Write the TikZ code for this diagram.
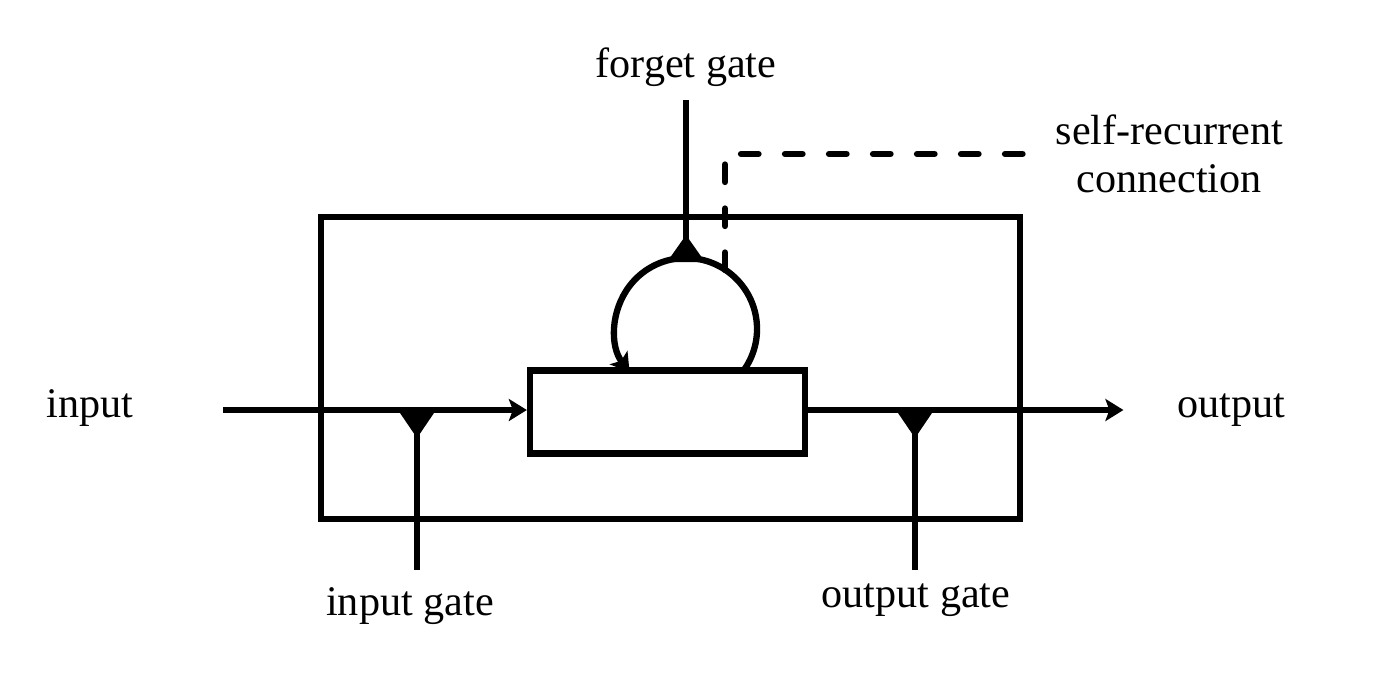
\documentclass[tikz,border=0pt]{standalone}
\usepackage{fontspec}
\setmainfont{Liberation Serif}
\usetikzlibrary{arrows.meta,positioning}
\tikzset{
  wire/.style={line width=1.8pt},
  flow/.style={wire,-{Stealth[length=1.8mm,width=2.2mm,inset=0.4mm]}},
  box/.style={draw,line width=1.8pt,inner sep=0pt},
  lbl/.style={inner sep=0pt,font=\fontsize{12}{13.6}\selectfont},
}
\begin{document}
\begin{tikzpicture}
	\useasboundingbox (0,0) rectangle (13.81,-6.81);
	% block and cell
	\node[box,minimum width=6.99cm,minimum height=3.02cm] (block) at (6.705,-3.68) {};
	\node[box,minimum width=2.75cm,minimum height=0.83cm] (cell) at (6.675,-4.12) {};
	% labels
	\node[lbl,anchor=base] (in) at (0.90,-4.17) {input};
	\node[lbl,anchor=base] (out) at (12.31,-4.17) {output};
	\node[lbl] (fg) at (6.86,-0.67) {forget gate};
	\node[lbl,anchor=base] (ig) at (4.10,-6.15) {input gate};
	\node[lbl,anchor=base] (og) at (9.16,-6.07) {output gate};
	\node[lbl,align=center,anchor=west] (rec) at (10.55,-1.54) {self-recurrent\\connection};
	% junctions and free ends
	\coordinate (ij) at (4.17,-4.10);
	\coordinate (ie) at (4.17,-5.70);
	\coordinate (oj) at (9.15,-4.10);
	\coordinate (oe) at (9.15,-5.70);
	\coordinate (ft) at (6.86,-1.00);
	\coordinate (fj) at (6.86,-2.58);
	\coordinate (rs) at (7.25,-2.70);
	% input and output
	\draw[flow] ([xshift=8.9mm]in.east |- ij) -- (ij -| cell.west);
	\draw[flow] (oj -| cell.east) -- ([xshift=-5.3mm]out.west |- oj);
	% gates
	\foreach \j/\e in {ij/ie, oj/oe}{
		\draw[wire] (\j) -- (\e);
		\fill ([xshift=-1.9mm]\j) -- ([xshift=1.9mm]\j) -- ([yshift=-2.8mm]\j) -- cycle;
	}
	\draw[wire] (ft) -- (fj);
	\fill ([xshift=-1.9mm,yshift=-0.4mm]fj) -- ([xshift=1.9mm,yshift=-0.4mm]fj) -- ([yshift=2.3mm]fj) -- cycle;
	% loop
	\draw[flow] (7.425,-3.72) arc[start angle=-37.3,end angle=217.3,radius=0.71];
	\draw[wire,line cap=round,dash pattern=on 1.75mm off 2.65mm] (rs) -- (rs |- rec.west) -- ([xshift=-3mm]rec.west);
\end{tikzpicture}
\end{document}
